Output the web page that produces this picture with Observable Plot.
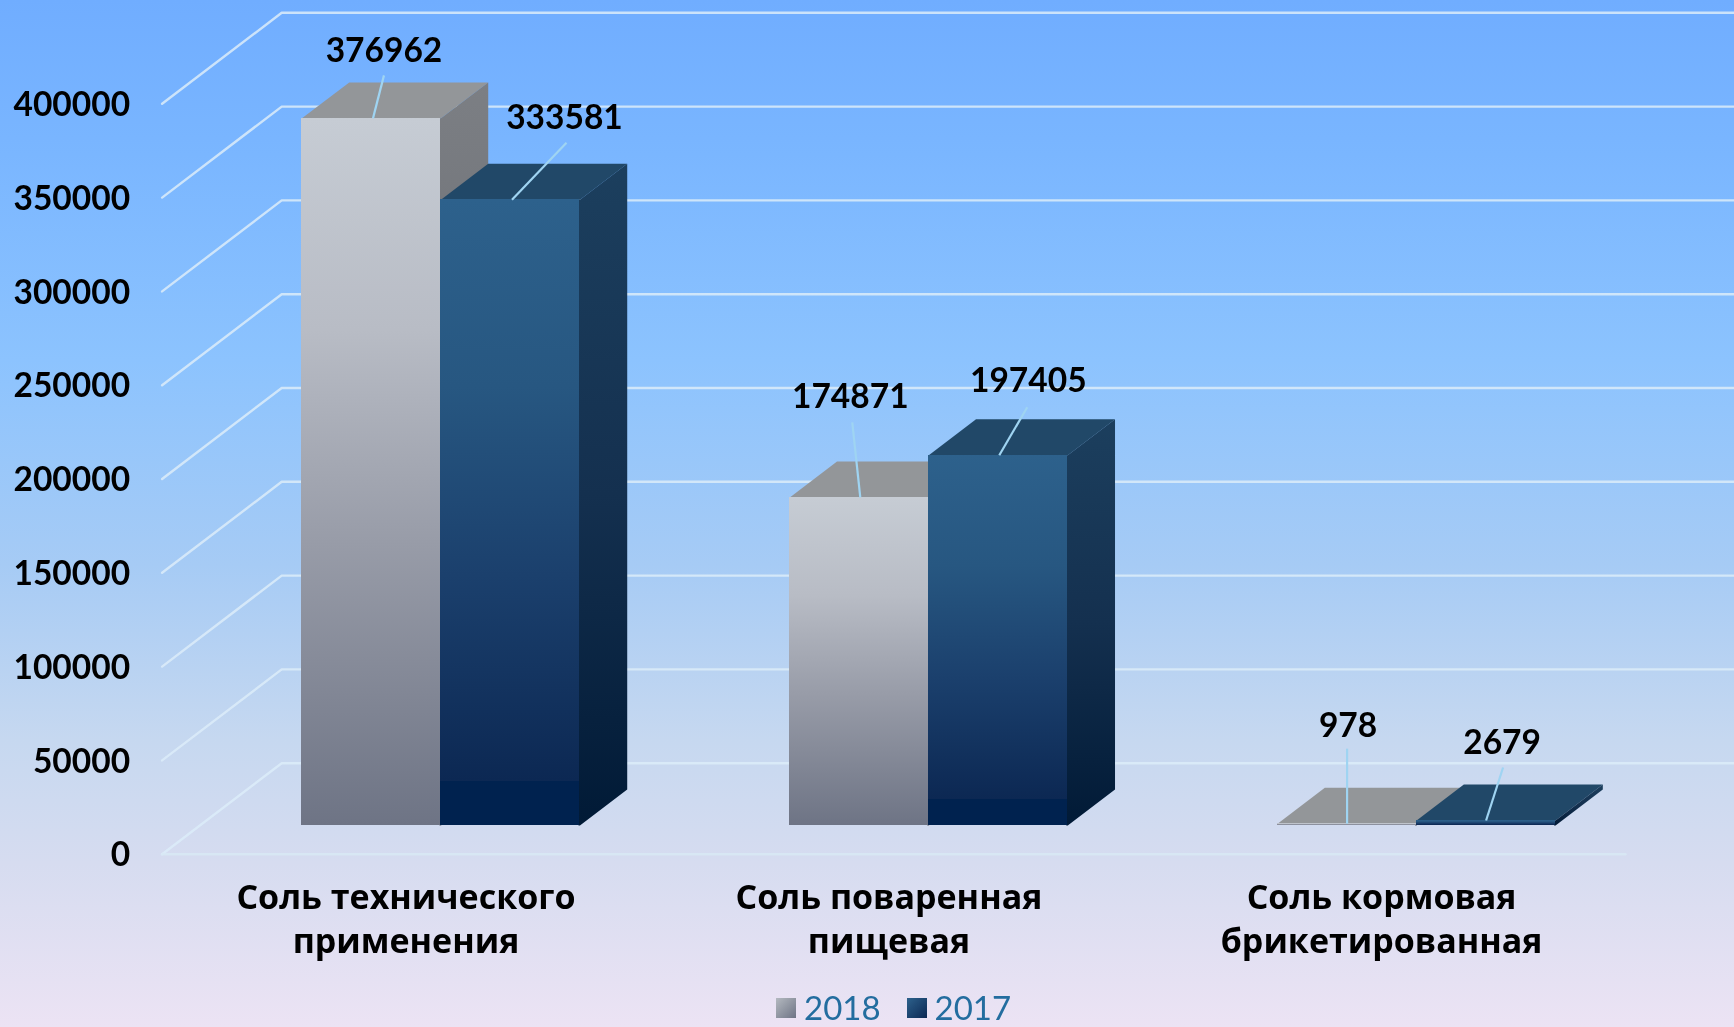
<!DOCTYPE html>
<html lang="ru">
<head>
<meta charset="utf-8">
<script src="https://cdn.jsdelivr.net/npm/d3@7"></script>
<script src="https://cdn.jsdelivr.net/npm/@observablehq/plot@0.6"></script>
<style>
html,body{margin:0;padding:0;width:1734px;height:1027px;overflow:hidden}
body{position:relative;background:linear-gradient(180deg,#70adff 0%,#7ab6ff 15%,#8cc3fe 35%,#a6cbf5 55%,#c6d8f0 72%,#d6dcf0 84%,#ece3f4 100%);font-family:Lato,"Open Sans",sans-serif}
#chart svg{filter:blur(0.5px)}
#legend{position:absolute;left:776px;top:988px;display:flex;align-items:center;height:39px;font-size:33px;color:#236d9f;line-height:39px;filter:blur(0.4px)}
#legend i{display:inline-block;width:20px;height:20px;margin-right:8px}
#legend span{margin-right:26px}
</style>
</head>
<body>
<div id="chart"></div>
<div id="legend"></div>
<script>
const categories = ["Соль технического\nприменения", "Соль поваренная\nпищевая", "Соль кормовая\nбрикетированная"];
const series = ["2018", "2017"];
const values2018 = [376962, 174871, 978];
const values2017 = [333581, 197405, 2679];
const yTicks = [0, 50000, 100000, 150000, 200000, 250000, 300000, 350000, 400000];
const xTicks = [0.5, 1.49, 2.5];

// Layout of the pseudo-3D projection
const W = 1734, H = 985;
const mL = 161.6, mR = 109, mT = 103.3, mB = H - 853.7;
const pxPerU = (W - mL - mR) / 3;
const pxPerV = (H - mT - mB) / 400000;
const depthU = 119.6 / pxPerU;      // full depth of the floor, in category units
const depthV = 91 / pxPerV;         // full depth of the floor, in value units
const d1 = 0.315, d2 = 0.71;        // front and back of the bars within the depth
const barW = 139 / pxPerU;
const barShift = -2.7 / pxPerU;
const U = (u, d) => u + d * depthU;
const V = (v, d) => v + d * depthV;

// Offsets of leader ends and labels from the top-front centre of each bar, in px
const leaderStart = [1.5, 1.5, 1, 1, 0, 0];
const leaderEnd = [[12.5, 43], [56, 57], [-7, 75], [29, 48], [0, 75], [17, 53]];
const labelPos = [[12.5, 67], [54, 81], [-9, 100], [30, 74], [1, 97], [16, 77]];

const bars = [];
categories.forEach((c, i) => {
  bars.push({s: 0, i, u0: i + 0.5 - barW + barShift, u1: i + 0.5 + barShift, v: values2018[i]});
  bars.push({s: 1, i, u0: i + 0.5 + barShift, u1: i + 0.5 + barW + barShift, v: values2017[i]});
});

const poly = (pts, fill) => Plot.line(pts, {x: "x", y: "y", fill, stroke: "none", curve: "linear"});
const pt = (u, v, d) => ({x: U(u, d), y: V(v, d)});

const grid = [];
yTicks.forEach(t => {
  grid.push(Plot.line([pt(0, t, 0), pt(0, t, 1), pt(3, t, 1)], {x: "x", y: "y", stroke: "#dcecf9", strokeOpacity: 0.85, strokeWidth: 2.4}));
});
grid.push(Plot.line([pt(0, 0, 0), pt(3, 0, 0)], {x: "x", y: "y", stroke: "#d8e9f4", strokeOpacity: 0.85, strokeWidth: 2.4}));

const faces = [];
const eps = 1.5 / pxPerU;
bars.forEach(b => {
  const top = b.s ? "#214868" : "#939699";
  const side = b.s ? "url(#blueSide)" : "url(#graySide)";
  const front = b.s ? "url(#blueFront)" : "url(#grayFront)";
  faces.push(poly([pt(b.u0, b.v, d1), pt(b.u1, b.v, d1), pt(b.u1, b.v, d2), pt(b.u0, b.v, d2)], top));
  faces.push(poly([pt(b.u1 - eps, 0, d1), pt(b.u1 - eps, b.v, d1), pt(b.u1, b.v, d1), pt(b.u1, b.v, d2), pt(b.u1, 0, d2), pt(b.u1, 0, d1)], side));
  faces.push(Plot.rect([b], {x1: U(b.u0, d1), x2: U(b.u1, d1), y1: V(0, d1), y2: V(b.v, d1), fill: front, inset: 0, shapeRendering: "crispEdges"}));
});

const leaders = bars.map((b, k) => {
  const cx = U((b.u0 + b.u1) / 2, d1), cy = V(b.v, d1);
  return {
    x1: cx + leaderStart[k] / pxPerU, y1: cy,
    x2: cx + leaderEnd[k][0] / pxPerU, y2: cy + leaderEnd[k][1] / pxPerV,
    lx: cx + labelPos[k][0] / pxPerU, ly: cy + labelPos[k][1] / pxPerV,
    label: String(b.v)
  };
});

const gradient = (id, stops) =>
  `<linearGradient id="${id}" x1="0" y1="0" x2="0" y2="1">` +
  stops.map(([o, c]) => `<stop offset="${o}" stop-color="${c}"/>`).join("") + `</linearGradient>`;

const defs = () => {
  const g = document.createElementNS("http://www.w3.org/2000/svg", "defs");
  g.innerHTML =
    gradient("grayFront", [[0, "#c6ccd4"], [0.3, "#b8bcc5"], [0.6, "#989ca8"], [1, "#6e7485"]]) +
    gradient("graySide", [[0, "#7c7f84"], [1, "#55585f"]]) +
    gradient("blueFront", [[0, "#2d618c"], [0.3, "#275781"], [0.6, "#1b406d"], [0.93, "#0c2853"], [0.93, "#00224f"], [1, "#00224f"]]) +
    gradient("blueSide", [[0, "#1c3f5e"], [0.5, "#14304f"], [1, "#011a36"]]);
  return g;
};

const chart = Plot.plot({
  width: W, height: H,
  marginLeft: mL, marginRight: mR, marginTop: mT, marginBottom: mB,
  style: {background: "transparent", overflow: "visible", fontFamily: "Lato, 'Open Sans', sans-serif"},
  x: {domain: [0, 3], range: [mL, W - mR]},
  y: {domain: [0, 400000], range: [H - mB, mT]},
  marks: [
    defs,
    ...grid,
    ...faces,
    Plot.link(leaders, {x1: "x1", y1: "y1", x2: "x2", y2: "y2", stroke: "#9fd4f2", strokeWidth: 2.2}),
    Plot.text(leaders, {x: "lx", y: "ly", text: "label", fontSize: 33.5, fontWeight: 700, fill: "#000"}),
    Plot.axisY({ticks: yTicks, tickFormat: d => String(d), tickSize: 0, tickPadding: 32, dy: 1.5, fontSize: 33.5, fontWeight: 700, fill: "#000", label: null}),
    Plot.axisX({ticks: xTicks, tickFormat: d => categories[Math.round(d - 0.5)], tickSize: 0, tickPadding: 24, fontSize: 34, fontWeight: 700, fontFamily: "'Open Sans', sans-serif", fill: "#000", label: null, lineHeight: 1.28})
  ]
});
document.getElementById("chart").append(chart);

const swatches = ["linear-gradient(135deg,#b4b9c0,#6e7485)", "linear-gradient(135deg,#2d618c,#0c2853)"];
document.getElementById("legend").innerHTML = series.map((s, i) =>
  `<i style="background:${swatches[i]}"></i><span>${s}</span>`).join("");
</script>
</body>
</html>
